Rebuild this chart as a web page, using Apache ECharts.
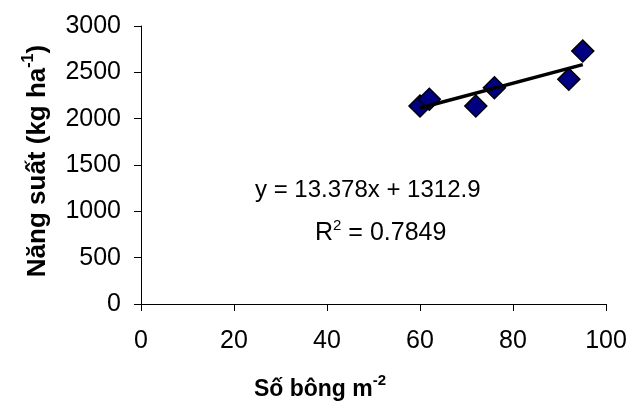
<!DOCTYPE html>
<html>
<head>
<meta charset="utf-8">
<script src="https://cdn.jsdelivr.net/npm/echarts@6/dist/echarts.min.js"></script>
<style>html,body{margin:0;padding:0;background:#fff}#c{width:632px;height:403px}</style>
</head>
<body>
<div id="c"></div>
<script>
var panicles = [60, 62, 72, 76, 92, 95];
var yieldVals = [2137, 2209, 2137, 2334, 2425, 2730];
var slope = 13.378;
var intercept = 1312.9;
var r2 = 0.7849;
var xTicks = [0, 20, 40, 60, 80, 100];
var yTicks = [0, 500, 1000, 1500, 2000, 2500, 3000];

var FONT = '"Liberation Sans", Arial, sans-serif';
var pts = panicles.map(function (x, i) { return [x, yieldVals[i]]; });
var xMin = Math.min.apply(null, panicles), xMax = Math.max.apply(null, panicles);
var trend = [[xMin, slope * xMin + intercept], [xMax, slope * xMax + intercept]];

var chart = echarts.init(document.getElementById('c'));
chart.setOption({
  animation: false,
  backgroundColor: '#fff',
  grid: { left: 141, right: 26, top: 26, bottom: 99, containLabel: false },
  xAxis: {
    type: 'value', min: xTicks[0], max: xTicks[xTicks.length - 1], interval: 20,
    splitLine: { show: false },
    axisLine: { onZero: false, lineStyle: { color: '#000', width: 1 } },
    axisTick: { inside: false, length: 7, lineStyle: { color: '#000' } },
    axisLabel: { color: '#000', fontSize: 25, fontFamily: FONT, margin: 25,
      formatter: function (v) { return String(v); } }
  },
  yAxis: {
    type: 'value', min: yTicks[0], max: yTicks[yTicks.length - 1], interval: 500,
    splitLine: { show: false },
    axisLine: { show: true, lineStyle: { color: '#000', width: 1 } },
    axisTick: { show: true, inside: false, length: 7, lineStyle: { color: '#000' } },
    axisLabel: { color: '#000', fontSize: 25, fontFamily: FONT, margin: 20,
      formatter: function (v) { return String(v); } }
  },
  series: [
    {
      type: 'scatter', data: pts, symbol: 'diamond', symbolSize: 22, z: 2,
      itemStyle: { color: '#000080', borderColor: '#000', borderWidth: 1.5, opacity: 1 }
    },
    {
      type: 'line', data: trend, showSymbol: false, symbol: 'none', z: 3,
      lineStyle: { color: '#000', width: 3.5 }
    }
  ],
  graphic: [
    {
      type: 'text', left: 255, top: 178,
      style: { text: 'y = ' + slope + 'x + ' + intercept, font: '24px ' + FONT, fill: '#000' }
    },
    {
      type: 'text', left: 315, top: 218,
      style: {
        text: '{a|R}{s|2}{a| = ' + r2 + '}', fill: '#000',
        rich: {
          a: { fontSize: 25, fontFamily: FONT, lineHeight: 28, verticalAlign: 'bottom' },
          s: { fontSize: 15, fontFamily: FONT, lineHeight: 28, verticalAlign: 'top' }
        }
      }
    },
    {
      type: 'text', x: 320, y: 387,
      style: {
        text: '{a|Số bông m}{s|-2}', fill: '#000', align: 'center', verticalAlign: 'middle',
        rich: {
          a: { fontSize: 23, fontWeight: 'bold', fontFamily: FONT, lineHeight: 28, verticalAlign: 'bottom' },
          s: { fontSize: 15, fontWeight: 'bold', fontFamily: FONT, lineHeight: 28, verticalAlign: 'top' }
        }
      }
    },
    {
      type: 'text', x: 36, y: 161, rotation: Math.PI / 2,
      style: {
        text: '{a|Năng suất (kg ha}{s|-1}{a|)}', fill: '#000', align: 'center', verticalAlign: 'middle',
        rich: {
          a: { fontSize: 26, fontWeight: 'bold', fontFamily: FONT, lineHeight: 30, verticalAlign: 'bottom' },
          s: { fontSize: 16, fontWeight: 'bold', fontFamily: FONT, lineHeight: 30, verticalAlign: 'top' }
        }
      }
    }
  ]
});
</script>
</body>
</html>
